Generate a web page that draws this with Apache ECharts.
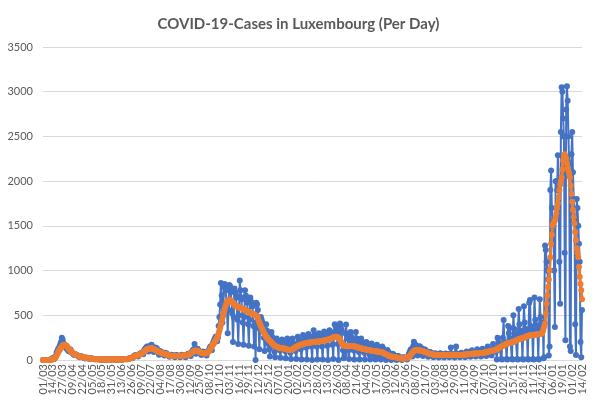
<!DOCTYPE html>
<html>
<head>
<meta charset="utf-8">
<script src="https://cdn.jsdelivr.net/npm/echarts@6/dist/echarts.min.js"></script>
<style>
  html, body { margin: 0; padding: 0; background: #fff; }
  #chart { width: 597px; height: 405px; }
</style>
</head>
<body>
<div id="chart"></div>
<script>
// first day of the series and number of days (01/03/2020 .. 14/02/2022)
const startDate = Date.UTC(2020, 2, 1);
const dayCount = 716;
const labelStep = 13;

// daily new cases, one row per week (Sun..Sat)
const casesDaily = [
    0,1,0,0,1,0,0,
    0,2,3,2,7,8,21,
    15,10,35,45,80,100,120,
    130,150,180,200,250,230,190,
    160,150,140,150,120,110,100,
    95,120,110,85,80,70,60,
    55,65,60,52,50,40,38,
    30,40,42,35,30,25,22,
    18,28,25,22,20,15,14,
    12,18,16,15,12,9,8,
    7,10,11,9,10,6,5,
    4,7,8,7,6,5,4,
    3,6,7,8,7,6,6,
    5,8,9,7,6,5,4,
    3,6,7,6,7,6,5,
    4,8,9,10,11,10,9,
    8,14,16,20,22,25,24,
    22,38,45,52,50,55,48,
    40,62,65,70,75,80,70,
    65,105,120,130,140,150,110,
    95,140,160,145,170,150,115,
    90,135,140,120,130,110,80,
    60,100,95,90,85,80,65,
    50,80,75,70,65,55,45,
    35,55,60,55,50,45,40,
    30,50,55,50,48,45,38,
    30,50,58,55,52,48,40,
    32,58,60,65,70,72,55,
    45,85,100,110,120,180,90,
    70,120,125,110,100,90,75,
    55,90,95,85,80,85,70,
    50,85,100,110,130,150,125,
    110,180,200,220,240,260,230,
    210,250,380,480,620,860,720,
    420,500,820,850,800,780,600,
    300,560,840,830,780,760,520,
    200,480,800,760,720,700,450,
    180,500,890,780,700,680,420,
    170,480,780,720,680,640,400,
    160,450,700,650,640,600,380,
    150,420,0,640,620,560,360,
    120,350,480,450,420,400,250,
    100,260,400,330,300,180,120,
    40,200,314,260,230,150,90,
    30,140,240,200,190,180,110,
    25,130,230,210,180,170,100,
    20,120,240,200,170,150,80,
    10,150,240,190,170,160,100,
    10,170,260,230,210,200,120,
    5,190,280,260,240,220,140,
    5,210,290,270,250,230,150,
    0,240,333,280,260,240,150,
    5,230,300,290,280,250,150,
    5,240,320,300,290,270,160,
    0,260,333,320,300,280,170,
    10,300,400,380,340,320,180,
    0,300,407,380,340,180,110,
    20,60,300,396,280,240,110,
    10,200,314,260,230,220,110,
    5,210,314,240,210,200,90,
    5,180,240,200,180,170,80,
    5,160,200,185,160,150,60,
    5,140,185,160,140,130,50,
    5,130,170,150,130,120,40,
    5,115,150,130,110,100,30,
    0,90,111,90,80,70,20,
    0,60,70,60,50,45,15,
    0,40,45,40,30,25,10,
    0,25,30,28,25,20,8,
    5,30,60,80,100,120,60,
    40,150,203,180,170,160,90,
    50,130,155,150,140,130,80,
    45,70,120,111,105,95,80,
    35,55,90,85,80,75,60,
    30,45,75,70,68,65,50,
    28,45,75,70,65,62,48,
    28,45,72,68,66,63,50,
    30,48,140,72,68,63,50,
    28,46,150,70,66,62,48,
    30,46,80,72,68,65,50,
    32,50,95,82,78,72,55,
    35,55,110,90,85,80,60,
    38,60,120,95,92,85,65,
    40,65,125,100,95,90,70,
    45,75,150,120,110,105,80,
    50,85,180,135,125,120,95,
    5,250,200,170,160,150,10,
    5,250,446,200,180,170,10,
    5,380,300,362,240,220,10,
    5,500,350,300,260,240,10,
    5,570,400,330,290,260,10,
    5,600,420,350,310,280,10,
    5,640,670,380,330,300,10,
    5,700,450,390,340,300,10,
    5,680,480,400,350,420,20,
    30,1280,1230,1100,1000,900,50,
    150,1900,2120,1700,1550,1500,1000,
    370,2000,2000,1900,2290,1900,1100,
    630,2550,3050,3000,2700,2500,1200,
    220,2800,3060,2900,2500,2200,150,
    100,2300,2550,2100,1800,1600,400,
    55,1800,1700,1500,1300,1100,200,
    30,560
];

// 7-day average as drawn in orange, same layout
const avg7Day = [
    0,0,0,0,0,1,1,
    1,1,2,2,3,5,8,
    11,16,23,33,50,68,85,
    100,113,126,140,152,162,167,
    170,170,166,160,150,138,126,
    116,108,98,90,82,75,70,
    65,60,56,52,49,46,43,
    40,37,35,33,31,29,27,
    25,24,22,21,20,19,18,
    16,15,14,13,12,11,10,
    10,9,9,8,8,7,7,
    7,6,6,6,6,5,5,
    5,5,6,6,6,6,7,
    7,7,7,6,6,6,6,
    5,5,5,5,6,6,6,
    7,7,8,8,9,9,10,
    11,12,14,16,18,22,26,
    31,35,39,43,46,49,52,
    54,56,58,61,66,72,79,
    86,94,102,110,116,121,124,
    126,128,129,130,130,128,125,
    121,117,113,109,104,99,94,
    90,86,83,80,77,75,73,
    70,67,64,61,58,55,52,
    50,48,47,46,46,45,45,
    44,44,44,44,44,45,45,
    46,47,47,48,49,50,51,
    52,53,55,57,60,64,69,
    74,80,86,92,98,103,106,
    106,104,101,97,93,89,85,
    82,80,78,76,75,74,74,
    76,80,88,98,110,124,140,
    155,168,180,193,206,220,232,
    250,275,300,330,360,395,430,
    465,500,535,570,600,630,648,
    660,668,670,668,665,660,652,
    640,630,620,612,605,600,596,
    592,590,588,585,580,576,570,
    566,562,558,554,550,546,542,
    538,532,528,524,520,516,512,
    508,504,500,495,488,470,445,
    420,400,380,360,340,322,305,
    290,275,262,250,240,230,222,
    215,205,195,185,175,168,162,
    156,150,147,144,141,138,136,
    134,132,131,130,130,129,127,
    124,121,118,116,114,112,111,
    112,115,120,126,132,137,142,
    148,152,157,161,164,167,170,
    174,177,180,183,185,188,190,
    191,192,193,195,196,197,198,
    199,200,201,202,203,204,205,
    206,207,208,209,210,212,213,
    214,216,218,220,222,224,226,
    228,230,232,234,238,243,248,
    252,256,259,260,259,256,252,
    248,240,228,212,195,178,166,
    162,160,158,157,156,155,155,
    155,155,156,156,156,155,155,
    154,152,149,146,143,140,137,
    134,132,130,128,126,124,122,
    120,118,116,114,112,111,110,
    108,106,104,102,101,100,99,
    98,97,96,95,93,91,90,
    88,86,83,80,76,72,68,
    64,60,55,50,46,43,41,
    39,37,35,33,32,31,30,
    28,26,24,22,21,20,19,
    18,17,17,17,18,19,21,
    24,28,33,40,50,62,74,
    85,94,100,105,108,110,111,
    111,110,108,106,104,102,100,
    98,95,92,89,86,83,80,
    77,74,71,68,66,64,62,
    61,60,59,58,58,57,57,
    57,56,56,56,55,55,55,
    55,55,55,56,56,56,57,
    57,57,58,58,58,58,58,
    58,58,57,57,57,56,56,
    56,56,57,57,58,59,60,
    61,62,63,64,65,66,67,
    68,69,70,70,71,72,73,
    73,74,74,75,75,76,76,
    77,78,79,80,82,84,86,
    88,90,92,94,96,98,100,
    102,104,106,108,110,113,116,
    120,125,130,135,140,145,150,
    155,160,164,168,172,176,180,
    184,188,190,192,194,196,198,
    200,204,208,212,216,220,224,
    228,232,235,238,240,242,244,
    246,250,254,258,262,266,270,
    272,274,276,278,279,280,280,
    281,282,283,284,285,286,288,
    290,292,294,296,300,320,350,
    380,410,520,630,720,815,900,
    1000,1150,1300,1400,1500,1530,1550,
    1560,1600,1640,1700,1750,1820,1900,
    1960,2000,2040,2130,2230,2270,2300,
    2280,2250,2200,2150,2110,2080,2040,
    1950,1860,1770,1680,1600,1530,1430,
    1340,1250,1200,1150,1040,930,850,
    780,680
];

// dd/mm labels for every day
const dayLabels = [];
for (let i = 0; i < dayCount; i++) {
    const d = new Date(startDate + i * 86400000);
    const dd = String(d.getUTCDate()).padStart(2, '0');
    const mm = String(d.getUTCMonth() + 1).padStart(2, '0');
    dayLabels.push(dd + '/' + mm);
}

const textColor = '#595959';
const gridColor = '#d9d9d9';
const font = 'Lato, "Open Sans", sans-serif';

const chart = echarts.init(document.getElementById('chart'));

chart.setOption({
    animation: false,
    title: {
        text: 'COVID-19-Cases in Luxembourg (Per Day)',
        left: 'center',
        top: 12,
        textStyle: {
            color: textColor,
            fontSize: 15,
            fontWeight: 'bold',
            fontFamily: font
        }
    },
    grid: {
        left: 43,
        right: 15,
        top: 47,
        bottom: 45
    },
    xAxis: {
        type: 'category',
        data: dayLabels,
        boundaryGap: false,
        axisLine: { lineStyle: { color: gridColor } },
        axisTick: { show: false },
        axisLabel: {
            // every label slot is kept, only each 13th day gets text
            interval: 0,
            formatter: (value, idx) => (idx % labelStep === 0 ? value : ''),
            rotate: 90,
            hideOverlap: false,
            color: textColor,
            fontSize: 11,
            fontFamily: font,
            margin: 4
        },
        splitLine: { show: false }
    },
    yAxis: {
        type: 'value',
        min: 0,
        max: 3500,
        interval: 500,
        axisLine: { show: false },
        axisTick: { show: false },
        axisLabel: {
            color: textColor,
            fontSize: 11,
            fontFamily: font,
            margin: 10,
            formatter: v => String(v)
        },
        splitLine: { lineStyle: { color: gridColor } }
    },
    series: [
        {
            name: 'Cases',
            type: 'line',
            data: casesDaily,
            symbol: 'circle',
            symbolSize: 6,
            showAllSymbol: true,
            sampling: null,
            lineStyle: { color: '#4472c4', width: 2 },
            itemStyle: { color: '#4472c4' }
        },
        {
            name: '7-day average',
            type: 'line',
            data: avg7Day,
            symbol: 'circle',
            symbolSize: 6,
            showAllSymbol: true,
            lineStyle: { color: '#ed7d31', width: 3 },
            itemStyle: { color: '#ed7d31' }
        }
    ]
});
</script>
</body>
</html>
